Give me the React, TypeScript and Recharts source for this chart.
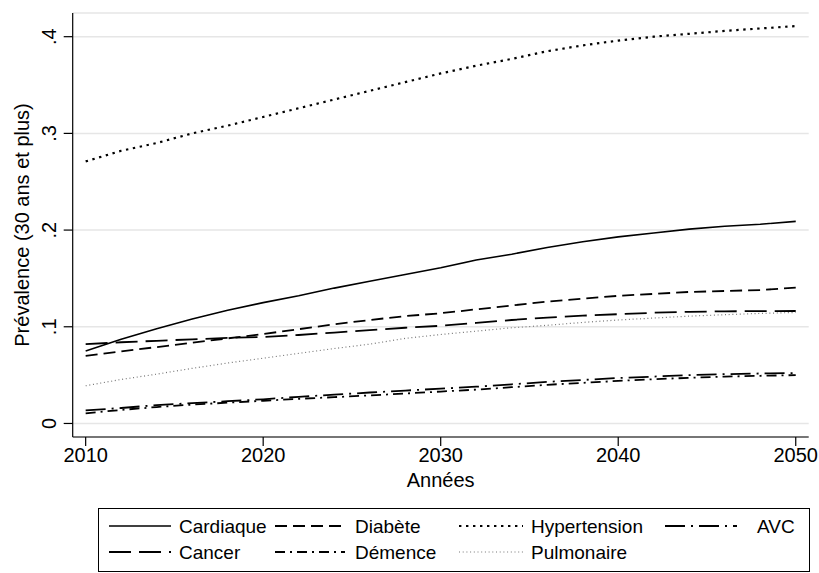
import { CartesianGrid, Legend, Line, LineChart, XAxis, YAxis } from "recharts";

const YEARS = [2010, 2012, 2014, 2016, 2018, 2020, 2022, 2024, 2026, 2028, 2030, 2032, 2034, 2036, 2038, 2040, 2042, 2044, 2046, 2048, 2050];

const CARDIAQUE = [0.075, 0.087, 0.098, 0.108, 0.117, 0.125, 0.132, 0.14, 0.147, 0.154, 0.161, 0.169, 0.175, 0.182, 0.188, 0.193, 0.197, 0.201, 0.204, 0.206, 0.209];
const DIABETE = [0.07, 0.0745, 0.079, 0.0835, 0.088, 0.0925, 0.0975, 0.1025, 0.107, 0.111, 0.114, 0.118, 0.122, 0.126, 0.129, 0.132, 0.134, 0.136, 0.137, 0.138, 0.1405];
const HYPERTENSION = [0.271, 0.282, 0.29, 0.3, 0.308, 0.317, 0.326, 0.335, 0.344, 0.353, 0.362, 0.37, 0.377, 0.385, 0.391, 0.396, 0.4, 0.403, 0.406, 0.4085, 0.411];
const AVC = [0.0135, 0.016, 0.019, 0.021, 0.023, 0.025, 0.0275, 0.0298, 0.032, 0.034, 0.036, 0.038, 0.0405, 0.043, 0.045, 0.047, 0.0485, 0.05, 0.051, 0.0517, 0.0522];
const CANCER = [0.082, 0.084, 0.0855, 0.087, 0.0885, 0.0895, 0.0915, 0.094, 0.0965, 0.099, 0.101, 0.104, 0.107, 0.1095, 0.1115, 0.113, 0.1145, 0.1155, 0.116, 0.1162, 0.1163];
const DEMENCE = [0.0105, 0.014, 0.017, 0.0195, 0.0215, 0.0235, 0.0255, 0.0272, 0.029, 0.031, 0.033, 0.035, 0.0375, 0.04, 0.042, 0.044, 0.0458, 0.0472, 0.0485, 0.0493, 0.05];
const PULMONAIRE = [0.039, 0.0455, 0.051, 0.057, 0.0625, 0.0675, 0.0725, 0.0775, 0.082, 0.088, 0.092, 0.0955, 0.099, 0.1015, 0.1045, 0.107, 0.109, 0.111, 0.1125, 0.1138, 0.1148];

const X_TICKS = [2010, 2020, 2030, 2040, 2050];
const Y_TICKS = [0, 0.1, 0.2, 0.3, 0.4];
const Y_TICK_LABELS = ["0", ".1", ".2", ".3", ".4"];

const FONT = "'Liberation Sans', Arial, Helvetica, sans-serif";
const FS = 20;
const LEGEND_FS = 19;

type Series = { key: string; name: string; values: number[]; dash?: string; color: string; width: number };

const SERIES: Series[] = [
  { key: "cardiaque", name: "Cardiaque", values: CARDIAQUE, color: "#000", width: 1.6 },
  { key: "diabete", name: "Diabète", values: DIABETE, dash: "12 6", color: "#000", width: 1.8 },
  { key: "hypertension", name: "Hypertension", values: HYPERTENSION, dash: "2.4 4.6", color: "#000", width: 2.2 },
  { key: "avc", name: "AVC", values: AVC, dash: "20 6 2 6", color: "#000", width: 1.8 },
  { key: "cancer", name: "Cancer", values: CANCER, dash: "22 8", color: "#000", width: 1.8 },
  { key: "demence", name: "Démence", values: DEMENCE, dash: "10 5 2 5", color: "#000", width: 1.8 },
  { key: "pulmonaire", name: "Pulmonaire", values: PULMONAIRE, dash: "1 2.7", color: "#777", width: 1.2 },
];

const data = YEARS.map((year, i) => {
  const row: Record<string, number> = { year };
  for (const s of SERIES) row[s.key] = s.values[i];
  return row;
});

// legend slots inside the box: [sampleLeft, sampleWidth, textLeft, rowCenter]
const LEGEND_POS: Record<string, [number, number, number, number]> = {
  cardiaque: [10, 62, 80, 17],
  diabete: [176, 70, 256, 17],
  hypertension: [360, 64, 432, 17],
  avc: [566, 72, 658, 17],
  cancer: [10, 62, 80, 43],
  demence: [176, 70, 256, 43],
  pulmonaire: [360, 64, 432, 43],
};

function YTick({ x, y, payload }: any) {
  const bx = x - 6;
  const idx = Y_TICKS.indexOf(payload.value);
  return (
    <text x={bx} y={y} transform={`rotate(-90 ${bx} ${y})`} textAnchor="middle" fontSize={FS} fontFamily={FONT} fill="#000">
      {Y_TICK_LABELS[idx]}
    </text>
  );
}

function LegendBox() {
  return (
    <div
      style={{
        position: "relative",
        width: 712,
        height: 64,
        boxSizing: "border-box",
        border: "1.3px solid #000",
        background: "#fff",
        fontFamily: FONT,
        fontSize: LEGEND_FS,
        color: "#000",
      }}
    >
      {SERIES.map((s) => {
        const [sl, sw, tl, cy] = LEGEND_POS[s.key];
        return (
          <div key={s.key}>
            <svg style={{ position: "absolute", left: sl, top: cy - 4 }} width={sw} height={8}>
              <line x1={0} y1={4} x2={sw} y2={4} stroke={s.color} strokeWidth={s.width} strokeDasharray={s.dash} />
            </svg>
            <span style={{ position: "absolute", left: tl, top: cy, transform: "translateY(-50%)", lineHeight: 1, whiteSpace: "nowrap" }}>
              {s.name}
            </span>
          </div>
        );
      })}
    </div>
  );
}

export default function App() {
  return (
    <div style={{ position: "fixed", left: 8, top: 8, width: 811, height: 565, background: "#fff" }}>
      <LineChart width={811} height={565} data={data} margin={{ top: 5, right: 10.3, left: 0, bottom: 1 }}>
        <CartesianGrid vertical={false} stroke="#e6e6e6" strokeWidth={1.5} />
        <XAxis
          dataKey="year"
          type="number"
          domain={[2009.27, 2050.73]}
          ticks={X_TICKS}
          allowDataOverflow
          height={71}
          tickSize={9}
          axisLine={{ stroke: "#000", strokeWidth: 1.2 }}
          tickLine={{ stroke: "#000", strokeWidth: 1.2 }}
          tick={{ fill: "#000", fontSize: FS, fontFamily: FONT }}
          label={{ value: "Années", position: "insideBottom", offset: 21, fill: "#000", fontSize: FS, fontFamily: FONT }}
        />
        <YAxis
          type="number"
          domain={[-0.014, 0.4245]}
          ticks={Y_TICKS}
          allowDataOverflow
          width={64.7}
          tickSize={9}
          axisLine={{ stroke: "#000", strokeWidth: 1.2 }}
          tickLine={{ stroke: "#000", strokeWidth: 1.2 }}
          tick={<YTick />}
          label={{
            value: "Prévalence (30 ans et plus)",
            angle: -90,
            position: "insideLeft",
            offset: 14,
            fill: "#000",
            fontSize: FS,
            fontFamily: FONT,
            style: { textAnchor: "middle" },
          }}
        />
        <Legend verticalAlign="bottom" align="left" wrapperStyle={{ left: 90, bottom: 1, width: 712 }} content={() => <LegendBox />} />
        {SERIES.map((s) => (
          <Line
            key={s.key}
            type="linear"
            dataKey={s.key}
            name={s.name}
            stroke={s.color}
            strokeWidth={s.width}
            strokeDasharray={s.dash}
            dot={false}
            activeDot={false}
            isAnimationActive={false}
          />
        ))}
      </LineChart>
    </div>
  );
}
